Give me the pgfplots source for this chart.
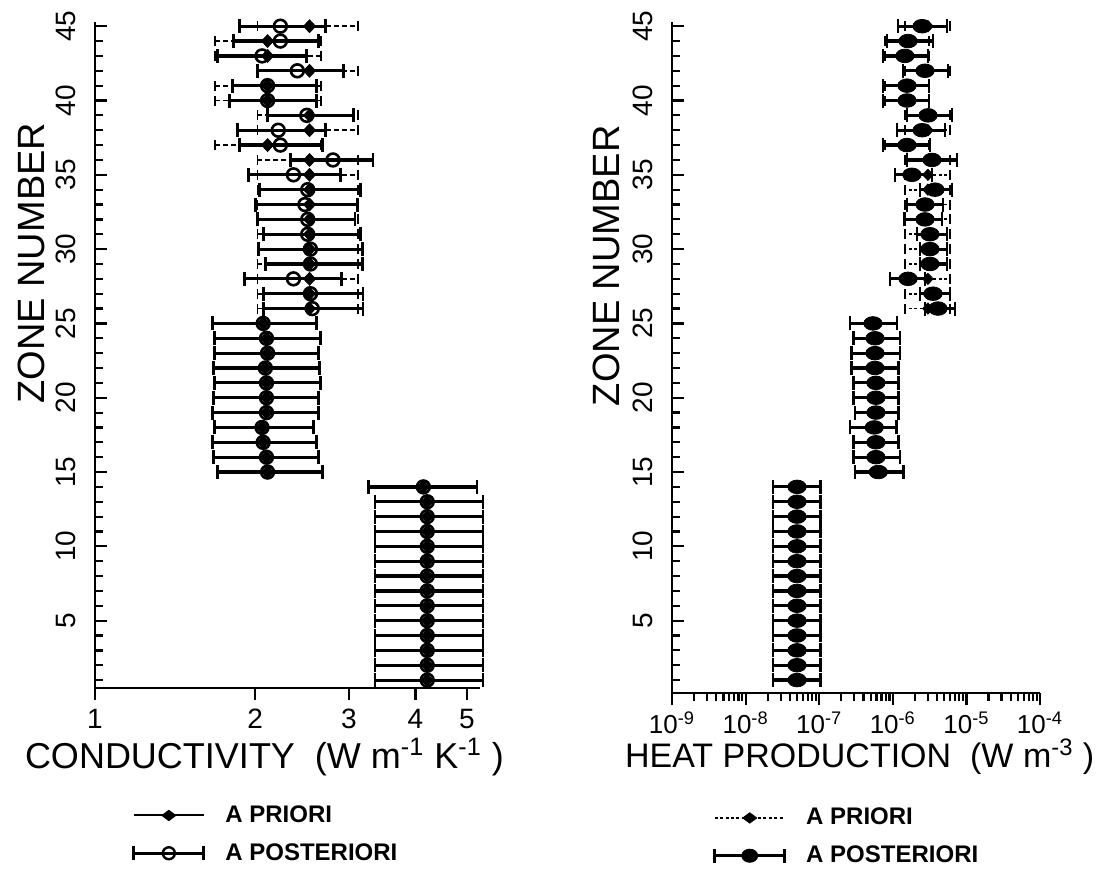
\documentclass[border=0pt]{standalone}
\usepackage{fontspec}
\setmainfont{Liberation Sans}
\usepackage{pgfplots}
\usepackage{pgfplotstable}
\pgfplotsset{compat=1.18}

% ---------------- conductivity (W m^-1 K^-1) ----------------
\pgfplotstableread{
z x lo hi
1 4.21 3.36 5.36
2 4.21 3.36 5.36
3 4.21 3.36 5.36
4 4.21 3.36 5.36
5 4.21 3.36 5.36
6 4.21 3.36 5.36
7 4.21 3.36 5.36
8 4.21 3.36 5.36
9 4.21 3.36 5.36
10 4.21 3.36 5.36
11 4.21 3.36 5.36
12 4.21 3.36 5.36
13 4.21 3.36 5.36
14 4.14 3.26 5.22
15 2.11 1.70 2.68
16 2.10 1.67 2.63
17 2.07 1.66 2.61
18 2.06 1.68 2.57
19 2.10 1.66 2.63
20 2.10 1.67 2.63
21 2.10 1.68 2.65
22 2.09 1.67 2.64
23 2.11 1.68 2.63
24 2.10 1.68 2.65
25 2.07 1.66 2.61
26 2.56 2.07 3.19
27 2.54 2.07 3.19
28 2.36 1.91 2.91
29 2.54 2.09 3.18
30 2.54 2.03 3.18
31 2.51 2.07 3.15
32 2.51 2.02 3.08
33 2.48 2.00 3.11
34 2.51 2.04 3.15
35 2.36 1.94 2.89
36 2.80 2.33 3.33
37 2.23 1.87 2.68
38 2.21 1.85 2.71
39 2.50 2.11 3.06
40 2.11 1.79 2.61
41 2.11 1.81 2.61
42 2.40 2.02 2.93
43 2.06 1.70 2.50
44 2.23 1.82 2.63
45 2.23 1.87 2.71
}\condpost

\pgfplotstableread{
z x lo hi
1 4.21 3.36 5.36
2 4.21 3.36 5.36
3 4.21 3.36 5.36
4 4.21 3.36 5.36
5 4.21 3.36 5.36
6 4.21 3.36 5.36
7 4.21 3.36 5.36
8 4.21 3.36 5.36
9 4.21 3.36 5.36
10 4.21 3.36 5.36
11 4.21 3.36 5.36
12 4.21 3.36 5.36
13 4.21 3.36 5.36
14 4.14 3.26 5.22
15 2.11 1.70 2.68
16 2.10 1.67 2.63
17 2.07 1.66 2.61
18 2.06 1.68 2.57
19 2.10 1.66 2.63
20 2.10 1.67 2.63
21 2.10 1.68 2.65
22 2.09 1.67 2.64
23 2.11 1.68 2.63
24 2.10 1.68 2.65
25 2.07 1.66 2.61
26 2.53 2.02 3.12
27 2.53 2.02 3.12
28 2.53 2.02 3.12
29 2.53 2.02 3.12
30 2.53 2.02 3.12
31 2.53 2.02 3.12
32 2.53 2.02 3.12
33 2.53 2.02 3.12
34 2.53 2.02 3.12
35 2.53 2.02 3.12
36 2.53 2.02 3.12
37 2.11 1.68 2.66
38 2.53 2.02 3.12
39 2.53 2.02 3.12
40 2.11 1.68 2.66
41 2.11 1.68 2.66
42 2.53 2.02 3.12
43 2.11 1.68 2.66
44 2.11 1.68 2.66
45 2.53 2.02 3.12
}\condprior

% ---------------- heat production (W m^-3) ----------------
\pgfplotstableread{
z x lo hi
1 5.0e-8 2.35e-8 1.03e-7
2 5.0e-8 2.35e-8 1.03e-7
3 5.0e-8 2.35e-8 1.03e-7
4 5.0e-8 2.35e-8 1.03e-7
5 5.0e-8 2.35e-8 1.03e-7
6 5.0e-8 2.35e-8 1.03e-7
7 5.0e-8 2.35e-8 1.03e-7
8 5.0e-8 2.35e-8 1.03e-7
9 5.0e-8 2.35e-8 1.03e-7
10 5.0e-8 2.35e-8 1.03e-7
11 5.0e-8 2.35e-8 1.03e-7
12 5.0e-8 2.35e-8 1.03e-7
13 5.0e-8 2.35e-8 1.03e-7
14 5.0e-8 2.35e-8 1.03e-7
15 6.35e-7 3.06e-7 1.39e-6
16 5.9e-7 2.9e-7 1.25e-6
17 5.9e-7 2.9e-7 1.19e-6
18 5.6e-7 2.62e-7 1.13e-6
19 5.9e-7 3.06e-7 1.19e-6
20 5.9e-7 2.9e-7 1.19e-6
21 5.9e-7 2.9e-7 1.19e-6
22 5.73e-7 2.77e-7 1.19e-6
23 5.73e-7 2.77e-7 1.25e-6
24 5.73e-7 2.9e-7 1.25e-6
25 5.38e-7 2.62e-7 1.14e-6
26 4.11e-6 2.74e-6 7.00e-6
27 3.52e-6 2.34e-6 5.98e-6
28 1.61e-6 9.16e-7 2.74e-6
29 3.20e-6 2.34e-6 5.45e-6
30 3.20e-6 2.34e-6 5.45e-6
31 3.20e-6 2.13e-6 5.45e-6
32 2.74e-6 1.46e-6 4.66e-6
33 2.74e-6 1.56e-6 4.81e-6
34 3.74e-6 2.34e-6 6.37e-6
35 1.82e-6 1.07e-6 3.41e-6
36 3.41e-6 1.56e-6 7.45e-6
37 1.56e-6 7.36e-7 3.20e-6
38 2.50e-6 1.14e-6 5.12e-6
39 3.01e-6 1.56e-6 6.37e-6
40 1.56e-6 7.36e-7 3.10e-6
41 1.56e-6 7.36e-7 3.10e-6
42 2.74e-6 1.38e-6 5.62e-6
43 1.46e-6 7.36e-7 3.01e-6
44 1.61e-6 8.34e-7 3.52e-6
45 2.50e-6 1.18e-6 5.45e-6
}\heatpost

\pgfplotstableread{
z x lo hi
1 5.0e-8 2.35e-8 1.03e-7
2 5.0e-8 2.35e-8 1.03e-7
3 5.0e-8 2.35e-8 1.03e-7
4 5.0e-8 2.35e-8 1.03e-7
5 5.0e-8 2.35e-8 1.03e-7
6 5.0e-8 2.35e-8 1.03e-7
7 5.0e-8 2.35e-8 1.03e-7
8 5.0e-8 2.35e-8 1.03e-7
9 5.0e-8 2.35e-8 1.03e-7
10 5.0e-8 2.35e-8 1.03e-7
11 5.0e-8 2.35e-8 1.03e-7
12 5.0e-8 2.35e-8 1.03e-7
13 5.0e-8 2.35e-8 1.03e-7
14 5.0e-8 2.35e-8 1.03e-7
15 6.35e-7 3.06e-7 1.39e-6
16 5.9e-7 2.9e-7 1.25e-6
17 5.9e-7 2.9e-7 1.19e-6
18 5.6e-7 2.62e-7 1.13e-6
19 5.9e-7 3.06e-7 1.19e-6
20 5.9e-7 2.9e-7 1.19e-6
21 5.9e-7 2.9e-7 1.19e-6
22 5.73e-7 2.77e-7 1.19e-6
23 5.73e-7 2.77e-7 1.25e-6
24 5.73e-7 2.9e-7 1.25e-6
25 5.38e-7 2.62e-7 1.14e-6
26 3.0e-6 1.46e-6 5.98e-6
27 3.0e-6 1.46e-6 5.98e-6
28 3.0e-6 1.46e-6 5.98e-6
29 3.0e-6 1.46e-6 5.98e-6
30 3.0e-6 1.46e-6 5.98e-6
31 3.0e-6 1.46e-6 5.98e-6
32 3.0e-6 1.46e-6 5.98e-6
33 3.0e-6 1.46e-6 5.98e-6
34 3.0e-6 1.46e-6 5.98e-6
35 3.0e-6 1.46e-6 5.98e-6
36 3.0e-6 1.46e-6 5.98e-6
37 1.56e-6 7.8e-7 3.1e-6
38 3.0e-6 1.46e-6 5.98e-6
39 3.0e-6 1.46e-6 5.98e-6
40 1.56e-6 7.8e-7 3.1e-6
41 1.56e-6 7.8e-7 3.1e-6
42 3.0e-6 1.46e-6 5.98e-6
43 1.56e-6 7.8e-7 3.1e-6
44 1.56e-6 7.8e-7 3.1e-6
45 3.0e-6 1.46e-6 5.98e-6
}\heatprior

\pgfplotsset{
  zoneaxis/.style={
    scale only axis,
    axis lines*=left,
    axis line style={line width=1.3pt, black},
    ymax=45.27,
    ytick={5,10,...,45},
    minor ytick={1,...,45},
    tick align=outside,
    major tick length=6pt,
    minor tick length=4pt,
    tick style={line width=1.1pt, black},
    major y tick style={xshift=6pt},
    minor y tick style={xshift=4pt},
    /pgf/number format/assume math mode=true,
    yticklabel style={rotate=90, anchor=south, font=\fontsize{14}{14}\selectfont},
    xticklabel style={font=\fontsize{14}{14}\selectfont},
    xlabel style={anchor=center, font=\fontsize{18}{18}\selectfont},
    ylabel style={anchor=center, font=\fontsize{19}{19}\selectfont},
    ylabel={ZONE NUMBER},
    clip=false,
    legend cell align=left,
    legend style={draw=none, fill=none, inner sep=0pt, anchor=north west,
      font=\bfseries\fontsize{12}{12}\selectfont, row sep=5pt,
      /tikz/every odd column/.append style={column sep=8pt}},
  },
}

\begin{document}
\begin{tikzpicture}
\useasboundingbox (0pt,0pt) rectangle (548pt,-435pt);

% ================= LEFT: conductivity =================
\begin{axis}[
  zoneaxis,
  at={(47.5pt,-344pt)}, anchor=south west,
  width=192.5pt, height=332.9pt,
  xmode=log, xmin=1, xmax=5.29,
  ymin=0.47,
  xtick={1,2,3,4,5}, xticklabels={1,2,3,4,5}, minor xtick={},
  xticklabel style={yshift=-1pt},
  xlabel={CONDUCTIVITY\ \ (W m\textsuperscript{-1} K\textsuperscript{-1} )},
  xlabel style={at={(axis description cs:0.44,-0.104)}},
  ylabel style={at={(axis description cs:-0.164,0.638)}},
  legend style={at={(axis description cs:0.096,-0.170)}},
]
\addlegendimage{legend image code/.code={
  \draw[line width=1pt] (0pt,0pt) -- (35pt,0pt);
  \fill (17.5pt,0pt) +(-3.5pt,0pt) -- +(0pt,2.6pt) -- +(3.5pt,0pt) -- +(0pt,-2.6pt) -- cycle;}}
\addlegendentry{A PRIORI}
\addlegendimage{legend image code/.code={
  \draw[line width=1.5pt] (0pt,0pt) -- (35pt,0pt);
  \draw[line width=1.5pt] (0pt,-3.5pt) -- (0pt,3.5pt);
  \draw[line width=1.5pt] (35pt,-3.5pt) -- (35pt,3.5pt);
  \draw[line width=1.2pt] (17.5pt,0pt) circle (3pt);}}
\addlegendentry{A POSTERIORI}

\addplot[forget plot, only marks, mark=diamond*, mark size=4pt,
  mark options={solid, fill=black, draw=black, yscale=0.8},
  error bars/.cd, x dir=both, x explicit, error mark=|,
  error bar style={line width=0.9pt, black, dash pattern=on 2.5pt off 1.5pt},
  error mark options={solid, line width=0.9pt, mark size=2.5pt, black}]
  table[x=x, y=z, x error plus expr=\thisrow{hi}-\thisrow{x},
        x error minus expr=\thisrow{x}-\thisrow{lo}] {\condprior};
\addplot[forget plot, only marks, mark=o, mark size=3.2pt,
  mark options={solid, line width=1.3pt, draw=black},
  error bars/.cd, x dir=both, x explicit, error mark=|,
  error bar style={line width=1.6pt, black},
  error mark options={line width=1.4pt, mark size=3.5pt, black}]
  table[x=x, y=z, x error plus expr=\thisrow{hi}-\thisrow{x},
        x error minus expr=\thisrow{x}-\thisrow{lo}] {\condpost};
\end{axis}

% ================= RIGHT: heat production =================
\begin{axis}[
  zoneaxis,
  at={(336pt,-346.5pt)}, anchor=south west,
  width=184pt, height=335.4pt,
  xmode=log, xmin=1e-9, xmax=1e-4,
  ymin=0.13,
  xtick={1e-9,1e-8,1e-7,1e-6,1e-5,1e-4},
  xticklabels={10\textsuperscript{-9},10\textsuperscript{-8},10\textsuperscript{-7},10\textsuperscript{-6},10\textsuperscript{-5},10\textsuperscript{-4}},
  xticklabel style={font=\fontsize{13}{13}\selectfont},
  xlabel={HEAT PRODUCTION\ \ (W m\textsuperscript{-3} )},
  xlabel style={at={(axis description cs:0.51,-0.095)}, font=\fontsize{17}{17}\selectfont},
  ylabel style={at={(axis description cs:-0.177,0.637)}},
  legend style={at={(axis description cs:0.111,-0.165)}},
]
\addlegendimage{legend image code/.code={
  \draw[line width=1pt, dash pattern=on 1.5pt off 1.2pt] (0pt,0pt) -- (35pt,0pt);
  \fill (17.5pt,0pt) +(-3.5pt,0pt) -- +(0pt,2.6pt) -- +(3.5pt,0pt) -- +(0pt,-2.6pt) -- cycle;}}
\addlegendentry{A PRIORI}
\addlegendimage{legend image code/.code={
  \draw[line width=1.5pt] (0pt,0pt) -- (35pt,0pt);
  \draw[line width=1.5pt] (0pt,-3.5pt) -- (0pt,3.5pt);
  \draw[line width=1.5pt] (35pt,-3.5pt) -- (35pt,3.5pt);
  \fill (17.5pt,0pt) ellipse (4pt and 3.3pt);}}
\addlegendentry{A POSTERIORI}

\addplot[forget plot, only marks, mark=diamond*, mark size=3.5pt,
  mark options={solid, fill=black, draw=black, yscale=0.8},
  error bars/.cd, x dir=both, x explicit, error mark=|,
  error bar style={line width=0.9pt, black, dash pattern=on 1.5pt off 1.2pt},
  error mark options={solid, line width=0.9pt, mark size=2.5pt, black}]
  table[x=x, y=z, x error plus expr=\thisrow{hi}-\thisrow{x},
        x error minus expr=\thisrow{x}-\thisrow{lo}] {\heatprior};
\addplot[forget plot, only marks, mark=*, mark size=3.4pt,
  mark options={solid, fill=black, draw=black, xscale=1.35},
  error bars/.cd, x dir=both, x explicit, error mark=|,
  error bar style={line width=1.6pt, black},
  error mark options={line width=1.4pt, mark size=3.5pt, black}]
  table[x=x, y=z, x error plus expr=\thisrow{hi}-\thisrow{x},
        x error minus expr=\thisrow{x}-\thisrow{lo}] {\heatpost};
\end{axis}
\end{tikzpicture}
\end{document}
